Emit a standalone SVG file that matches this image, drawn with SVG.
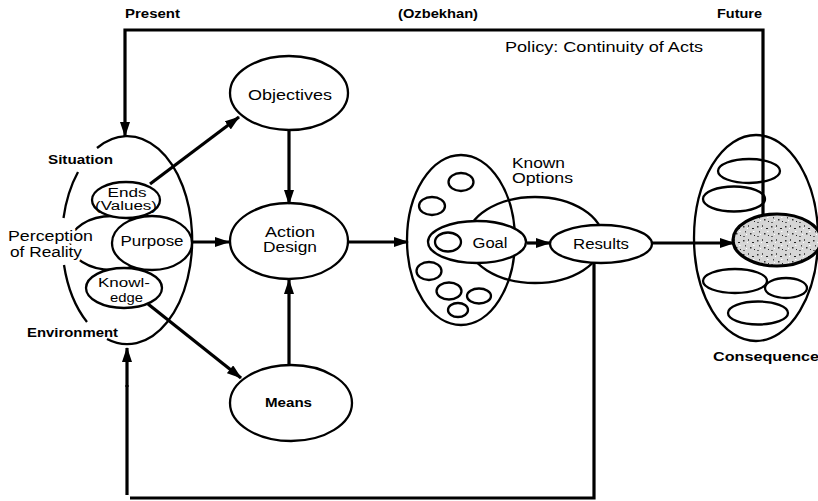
<svg xmlns="http://www.w3.org/2000/svg" width="818" height="501" viewBox="0 0 818 501">
<style>
text{font-family:"Liberation Sans",Arial,Helvetica,sans-serif;fill:#000}
.t{font-size:14px}
.s{font-size:12px}
.b{font-size:12.5px;font-weight:bold}
.n{fill:#fff;stroke:#000;stroke-width:2.3}
.o{fill:none;stroke:#000;stroke-width:2.3}
.c{fill:none;stroke:#000;stroke-width:3.2}
.halo{paint-order:stroke;stroke:#fff;stroke-width:5px;stroke-linejoin:round}
</style>
<defs>
<marker id="ah" viewBox="0 0 15 10" refX="14" refY="5" markerWidth="15" markerHeight="10" markerUnits="userSpaceOnUse" orient="auto">
<path d="M0,0 L15,5 L0,10 z" fill="#000"/>
</marker>
<pattern id="stip" width="14" height="14" patternUnits="userSpaceOnUse">
<rect width="14" height="14" fill="#d6d6d6"/>
<rect x="1" y="2" width="1.5" height="1.5" fill="#333"/>
<rect x="6" y="1" width="1" height="2" fill="#555"/>
<rect x="10" y="4" width="2" height="1" fill="#222"/>
<rect x="3" y="7" width="1" height="1.5" fill="#444"/>
<rect x="8" y="9" width="1.5" height="1.5" fill="#333"/>
<rect x="12" y="11" width="1" height="1" fill="#222"/>
<rect x="1" y="12" width="2" height="1" fill="#666"/>
<rect x="5" y="4" width="1" height="1" fill="#fff"/>
<rect x="11" y="7" width="1.5" height="1" fill="#fff"/>
<rect x="4" y="10" width="1" height="1" fill="#fff"/>
</pattern>
</defs>

<!-- Perception of reality cluster -->
<g id="situation">
<path class="o" d="M97,148 A65,104 0 1 1 107,339"/>
<path class="o" d="M78,172 A65,104 0 0 0 63.5,218"/>
<path class="o" d="M64,265 A65,104 0 0 0 87,322"/>
<text class="b" x="48" y="164" textLength="65" lengthAdjust="spacingAndGlyphs">Situation</text>
<text class="b" x="27" y="337" textLength="91" lengthAdjust="spacingAndGlyphs">Environment</text>
</g>
<g id="perception">
<ellipse class="n" cx="112" cy="243" rx="42" ry="27"/>
</g>
<g id="purpose">
<ellipse class="n" cx="152" cy="243" rx="40" ry="27"/>
<text class="t" x="152" y="246" text-anchor="middle" textLength="63" lengthAdjust="spacingAndGlyphs">Purpose</text>
</g>
<g id="ends">
<ellipse class="n" cx="126" cy="200" rx="34" ry="18"/>
<text class="s" x="127" y="197" text-anchor="middle" textLength="39" lengthAdjust="spacingAndGlyphs">Ends</text>
<text class="s" x="126" y="210" text-anchor="middle" textLength="62" lengthAdjust="spacingAndGlyphs">(Values)</text>
</g>
<g id="knowledge">
<ellipse class="n" cx="124" cy="288" rx="38" ry="20"/>
<text class="s" x="124" y="287" text-anchor="middle" textLength="52" lengthAdjust="spacingAndGlyphs">Knowl-</text>
<text class="s" x="126.5" y="302" text-anchor="middle" textLength="33" lengthAdjust="spacingAndGlyphs">edge</text>
</g>
<g id="perception-label">
<text class="t halo" x="8" y="241" textLength="85" lengthAdjust="spacingAndGlyphs">Perception</text>
<text class="t halo" x="10" y="257" textLength="72" lengthAdjust="spacingAndGlyphs">of Reality</text>
</g>

<!-- Central nodes -->
<g id="objectives">
<ellipse class="n" cx="289" cy="93" rx="59" ry="37"/>
<text class="t" x="290" y="100" text-anchor="middle" textLength="84" lengthAdjust="spacingAndGlyphs">Objectives</text>
</g>
<g id="action-design">
<ellipse class="n" cx="289" cy="241" rx="59" ry="38"/>
<text class="t" x="290" y="237" text-anchor="middle" textLength="50" lengthAdjust="spacingAndGlyphs">Action</text>
<text class="t" x="290" y="252" text-anchor="middle" textLength="54" lengthAdjust="spacingAndGlyphs">Design</text>
</g>
<g id="means">
<ellipse class="n" cx="291" cy="403" rx="61" ry="38"/>
<text class="b" x="288.5" y="407" text-anchor="middle" textLength="47" lengthAdjust="spacingAndGlyphs">Means</text>
</g>

<!-- Options -->
<g id="options">
<ellipse class="o" cx="461" cy="240" rx="54" ry="85"/>
<ellipse class="o" cx="461" cy="182" rx="12.5" ry="9"/>
<ellipse class="o" cx="432" cy="206" rx="13" ry="9"/>
<ellipse class="o" cx="429" cy="271" rx="12.5" ry="9"/>
<ellipse class="o" cx="449" cy="291" rx="12.5" ry="8.5"/>
<ellipse class="o" cx="479" cy="296" rx="12" ry="7.5"/>
<ellipse class="o" cx="458" cy="310" rx="10" ry="7"/>
</g>
<g id="known-options">
<ellipse class="o" cx="535" cy="240" rx="68" ry="43"/>
<text class="t" x="512" y="168" textLength="53" lengthAdjust="spacingAndGlyphs">Known</text>
<text class="t" x="512" y="183" textLength="61" lengthAdjust="spacingAndGlyphs">Options</text>
</g>
<g id="goal">
<ellipse class="n" cx="477" cy="242" rx="49" ry="21"/>
<ellipse class="o" cx="448" cy="242" rx="13" ry="9.5"/>
<text class="t" x="490" y="248" text-anchor="middle" textLength="35" lengthAdjust="spacingAndGlyphs">Goal</text>
</g>
<g id="results">
<ellipse class="n" cx="601" cy="244" rx="51" ry="19"/>
<text class="t" x="601" y="249" text-anchor="middle" textLength="56" lengthAdjust="spacingAndGlyphs">Results</text>
</g>

<!-- Consequences -->
<g id="consequences">
<ellipse class="o" cx="756" cy="238" rx="62" ry="103"/>
<ellipse class="o" cx="749" cy="171" rx="31" ry="12"/>
<ellipse class="o" cx="734" cy="199" rx="31" ry="12.5"/>
<ellipse class="o" cx="735" cy="281" rx="32" ry="12"/>
<ellipse class="o" cx="786" cy="288" rx="21" ry="10"/>
<ellipse class="o" cx="758" cy="313" rx="30" ry="11.5"/>
<ellipse cx="777" cy="240" rx="44" ry="26" fill="url(#stip)" stroke="#000" stroke-width="3.2"/>
<text class="b" x="713" y="361" textLength="106" lengthAdjust="spacingAndGlyphs">Consequence</text>
</g>

<!-- Top labels -->
<g id="labels">
<text class="b" x="125" y="18" textLength="55" lengthAdjust="spacingAndGlyphs">Present</text>
<text class="b" x="398" y="18" textLength="80" lengthAdjust="spacingAndGlyphs">(Ozbekhan)</text>
<text class="b" x="717" y="18" textLength="45" lengthAdjust="spacingAndGlyphs">Future</text>
<text class="t" x="505" y="52" textLength="198" lengthAdjust="spacingAndGlyphs">Policy: Continuity of Acts</text>
</g>

<!-- Connectors -->
<g id="connectors">
<path class="c" stroke-width="3.5" d="M763,214 V30 H125 V136" marker-end="url(#ah)"/>
<path class="c" d="M150,184 L239,117" marker-end="url(#ah)"/>
<path class="c" d="M148,304 L241,378" marker-end="url(#ah)"/>
<path class="c" d="M193,242 H229" marker-end="url(#ah)"/>
<path class="c" d="M289,130 V204" marker-end="url(#ah)"/>
<path class="c" d="M289,365 V280" marker-end="url(#ah)"/>
<path class="c" d="M348,242 H408" marker-end="url(#ah)"/>
<path class="c" d="M527,243 H550" marker-end="url(#ah)"/>
<path class="c" d="M652,243 H734" marker-end="url(#ah)"/>
<path class="c" stroke-width="4" d="M594,262 V498 H130"/>
<path class="c" stroke-width="1.6" d="M127,495 V385"/>
<path class="c" d="M127,387 V348" marker-end="url(#ah)"/>
</g>
</svg>
